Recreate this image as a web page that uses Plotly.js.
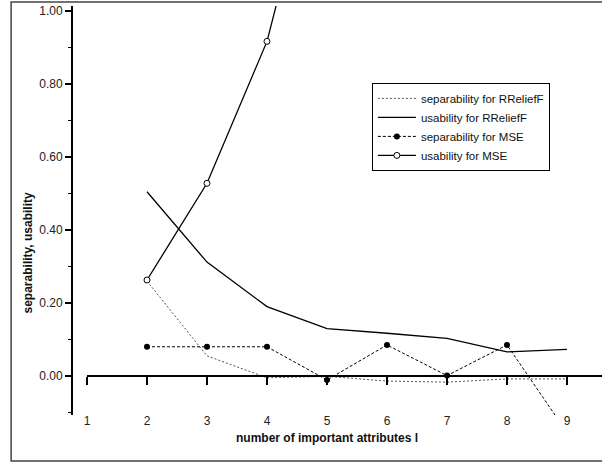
<!DOCTYPE html>
<html>
<head>
<meta charset="utf-8">
<script src="https://cdn.plot.ly/plotly-3.0.1.min.js"></script>
<style>html,body{margin:0;padding:0;background:#fff;}#chart{width:602px;height:464px;}</style>
</head>
<body>
<div id="chart"></div>
<script>
// ---- data ----
var attrCounts = [2, 3, 4, 5, 6, 7, 8, 9];
var sepRRelief = [0.26, 0.055, -0.005, -0.001, -0.014, -0.017, -0.008, -0.008];
var useRRelief = [0.505, 0.312, 0.19, 0.13, 0.117, 0.103, 0.066, 0.073];
var sepMSE     = [0.080, 0.080, 0.080, -0.011, 0.085, 0.001, 0.085, -0.155];
var useMSEx    = [2, 3, 4, 5];
var useMSE     = [0.263, 0.528, 0.917, 1.56];
var xTicks     = [1, 2, 3, 4, 5, 6, 7, 8, 9];
var yTicks     = [0, 0.2, 0.4, 0.6, 0.8, 1.0];
var names = ['separability for RReliefF', 'usability for RReliefF', 'separability for MSE', 'usability for MSE'];

var FONT = 'Liberation Sans, Arial, sans-serif';
var xRange = [0.767, 9.583];
var yRange = [-0.107, 1.014];
var zeroPos = (0 - yRange[0]) / (yRange[1] - yRange[0]);

var traces = [
  {x: attrCounts, y: sepRRelief, name: names[0], mode: 'lines',
   line: {color: '#555', width: 1, dash: '2px,2px'}},
  {x: attrCounts, y: useRRelief, name: names[1], mode: 'lines',
   line: {color: '#000', width: 1.3}},
  {x: attrCounts, y: sepMSE, name: names[2], mode: 'lines+markers',
   line: {color: '#000', width: 1, dash: '3px,2px'},
   marker: {symbol: 'circle', size: 6, color: '#000'}},
  {x: useMSEx, y: useMSE, name: names[3], mode: 'lines+markers',
   line: {color: '#000', width: 1.3},
   marker: {symbol: 'circle', size: 6, color: '#fff', line: {color: '#000', width: 1}}}
];

var fx0 = -0.117, fx1 = 1.1, fy0 = -0.1125, fy1 = 1.0098;

var layout = {
  width: 602, height: 464,
  margin: {l: 73, r: 0, t: 6, b: 49, pad: 0},
  paper_bgcolor: '#fff', plot_bgcolor: '#fff',
  font: {family: FONT, size: 12, color: '#222'},
  showlegend: true,
  legend: {x: 0.565, y: 0.812, xanchor: 'left', yanchor: 'top',
           bgcolor: '#fff', bordercolor: '#000', borderwidth: 1,
           itemwidth: 38,
           font: {family: FONT, size: 11.5, color: '#111'}, tracegroupgap: 0},
  xaxis: {range: xRange, anchor: 'free', position: zeroPos,
          tickvals: xTicks, ticktext: xTicks.map(String),
          ticks: 'outside', ticklen: 8, tickwidth: 1.5, tickcolor: '#000',
          ticklabelstandoff: 26,
          showline: false, showgrid: false, zeroline: false,
          tickfont: {family: FONT, size: 12, color: '#222'}},
  yaxis: {range: yRange, tickvals: yTicks, tickformat: '.2f',
          ticks: 'outside', ticklen: 6, tickwidth: 1.5, tickcolor: '#000',
          minor: {dtick: 0.1, tick0: 0, ticks: 'outside', ticklen: 3, tickwidth: 1.5, tickcolor: '#000'},
          showline: true, linecolor: '#000', linewidth: 2,
          showgrid: false, zeroline: false,
          tickfont: {family: FONT, size: 12, color: '#222'}},
  shapes: [
    {type: 'line', xref: 'x', yref: 'y', x0: xTicks[0], x1: xRange[1] + 1, y0: 0, y1: 0,
     line: {color: '#000', width: 2}},
    {type: 'path', xref: 'paper', yref: 'paper',
     path: 'M ' + fx1 + ' ' + fy1 + ' L ' + fx0 + ' ' + fy1 + ' L ' + fx0 + ' ' + fy0 + ' L ' + fx1 + ' ' + fy0,
     line: {color: '#444', width: 1.5}, layer: 'above'}
  ],
  annotations: [
    {text: '<b>number of important attributes l</b>', xref: 'paper', yref: 'paper',
     x: 0.48, y: -0.056, xanchor: 'center', yanchor: 'middle', showarrow: false,
     font: {family: FONT, size: 12, color: '#111'}},
    {text: '<b>separability, usability</b>', xref: 'paper', yref: 'paper',
     x: -0.085, y: 0.395, xanchor: 'center', yanchor: 'middle', textangle: -90, showarrow: false,
     font: {family: FONT, size: 12, color: '#111'}}
  ]
};

Plotly.newPlot('chart', traces, layout, {displayModeBar: false, staticPlot: true});
</script>
</body>
</html>
